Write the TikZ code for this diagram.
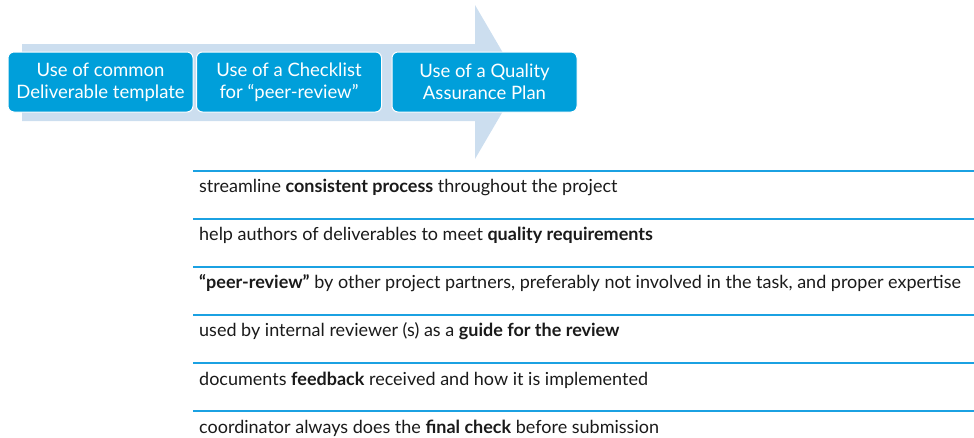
\documentclass[tikz,border=0pt]{standalone}
\usepackage{fontspec}
\setmainfont{Lato}[BoldFont={Lato Bold}]
\definecolor{arrowfill}{HTML}{CCDEEF}
\definecolor{stepblue}{HTML}{009FDA}
\definecolor{rule}{HTML}{1BA1E2}
\definecolor{ink}{HTML}{1A1A1A}
\begin{document}
\begin{tikzpicture}[x=1pt,y=-1pt,
  stepbox/.style={fill=stepblue, draw=white, line width=1pt, rounded corners=6pt,
    minimum width=185pt, minimum height=60pt, text=white, align=center,
    inner sep=0pt, font=\fontsize{18.5}{22}\selectfont},
  rowtext/.style={anchor=west, text=ink, inner sep=0pt, font=\fontsize{18}{20}\selectfont},
  sep/.style={draw=rule, line width=1.6pt}]
\useasboundingbox (0,0) rectangle (974,437);
% big process arrow behind the steps
\fill[arrowfill] (22,44) -- (475,44) -- (475,5) -- (520,82) -- (475,159) -- (475,121) -- (22,121) -- cycle;
% the three steps
\node[stepbox] (s1) at (100.5,82) {Use of common\\Deliverable template};
\node[stepbox] (s2) at (289,82) {Use of a Checklist\\for “peer-review”};
\node[stepbox] (s3) at (484.5,82) {Use of a Quality\\Assurance Plan};
% separators and notes
\foreach \y in {171,219,267,315,363,411} \draw[sep] (193,\y) -- (974,\y);
\node[rowtext] (r1) at (199,187) {streamline \textbf{consistent process} throughout the project};
\node[rowtext] (r2) at (199,235) {help authors of deliverables to meet \textbf{quality requirements}};
\node[rowtext] (r3) at (199,283) {\textbf{“peer-review”} by other project partners, preferably not involved in the task, and proper expertise};
\node[rowtext] (r4) at (199,331) {used by internal reviewer (s) as a \textbf{guide for the review}};
\node[rowtext] (r5) at (199,380) {documents \textbf{feedback} received and how it is implemented};
\node[rowtext] (r6) at (199,428) {coordinator always does the \textbf{final check} before submission};
\end{tikzpicture}
\end{document}
